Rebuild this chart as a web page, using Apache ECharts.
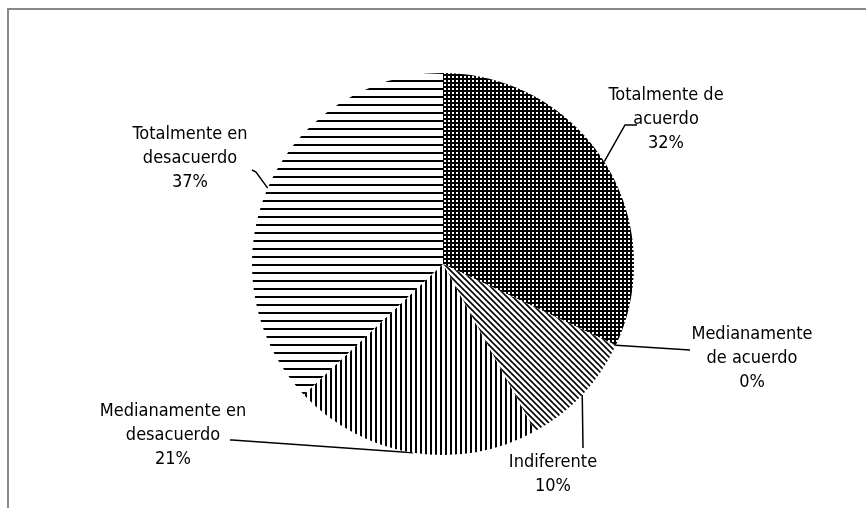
<!DOCTYPE html>
<html>
<head>
<meta charset="utf-8">
<script src="https://cdn.jsdelivr.net/npm/echarts@6/dist/echarts.min.js"></script>
<style>
  html, body { margin: 0; padding: 0; background: #fff; }
  #frame { position: absolute; left: 7px; top: 8px; width: 866px; height: 520px;
           border-top: 2px solid #888; border-left: 2px solid #888; }
  #main { position: absolute; left: 0; top: 0; width: 866px; height: 508px; }
</style>
</head>
<body>
<div id="frame"></div>
<div id="main"></div>
<script>
// datos
const categories = ['Totalmente de\nacuerdo', 'Medianamente\nde acuerdo', 'Indiferente', 'Medianamente en\ndesacuerdo', 'Totalmente en\ndesacuerdo']
const values = [32, 0, 10, 21, 37]

// posiciones de etiquetas (centro del texto) y fin de la linea guia
const labelAt = [[666, 119], [752, 358], [553, 474], [173, 435], [190, 158]]
const lineMid = [[625, 125], [690, 350], [583, 448], [232, 440], [256, 172]]
const lineEnd = [[637, 125], [690, 350], [583, 448], [230, 440], [252, 170]]

// tramas en blanco y negro
function makeTile(w, h, draw) {
  const c = document.createElement('canvas')
  c.width = w
  c.height = h
  const ctx = c.getContext('2d')
  ctx.fillStyle = '#fff'
  ctx.fillRect(0, 0, w, h)
  draw(ctx)
  return c
}
const dots = makeTile(4, 4, ctx => {
  ctx.fillStyle = '#000'
  ctx.fillRect(0, 0, 4, 4)
  ctx.fillStyle = '#fff'
  ctx.fillRect(0, 0, 2, 2)
})
const diag = makeTile(6, 6, ctx => {
  ctx.strokeStyle = '#000'
  ctx.lineWidth = 1.6
  ctx.beginPath()
  ctx.moveTo(-1, -1); ctx.lineTo(7, 7)
  ctx.moveTo(-1, 5); ctx.lineTo(1, 7)
  ctx.moveTo(5, -1); ctx.lineTo(7, 1)
  ctx.stroke()
})
const vert = makeTile(5, 5, ctx => {
  ctx.fillStyle = '#000'
  ctx.fillRect(0, 0, 2, 5)
})
const horiz = makeTile(8, 8, ctx => {
  ctx.fillStyle = '#000'
  ctx.fillRect(0, 0, 8, 2)
})
const patterns = [dots, diag, diag, vert, horiz]

let myChart = echarts.init(document.getElementById('main'))
let option = {
  animation: false,
  series: [
    {
      type: 'pie',
      center: [443, 264],
      radius: 191,
      startAngle: 90,
      clockwise: true,
      avoidLabelOverlap: false,
      data: categories.map((name, i) => ({
        name: name,
        value: values[i],
        itemStyle: { color: { image: patterns[i], repeat: 'repeat' } }
      })),
      itemStyle: { borderWidth: 0 },
      emphasis: { disabled: true },
      label: {
        show: true,
        formatter: '{b}\n{c}%',
        color: '#000',
        fontFamily: 'DejaVu Sans Condensed, Liberation Sans, sans-serif',
        fontSize: 18,
        lineHeight: 24,
        align: 'center'
      },
      labelLine: {
        show: true,
        length: 10,
        length2: 10,
        lineStyle: { color: '#000', width: 1.5 }
      },
      labelLayout: function (params) {
        const i = params.dataIndex
        const start = params.labelLinePoints ? params.labelLinePoints[0] : lineMid[i]
        return {
          x: labelAt[i][0],
          y: labelAt[i][1],
          align: 'center',
          verticalAlign: 'middle',
          labelLinePoints: [start, lineMid[i], lineEnd[i]]
        }
      }
    }
  ]
}
myChart.setOption(option)
window.addEventListener('resize', function () {
  myChart.resize()
})
</script>
</body>
</html>
